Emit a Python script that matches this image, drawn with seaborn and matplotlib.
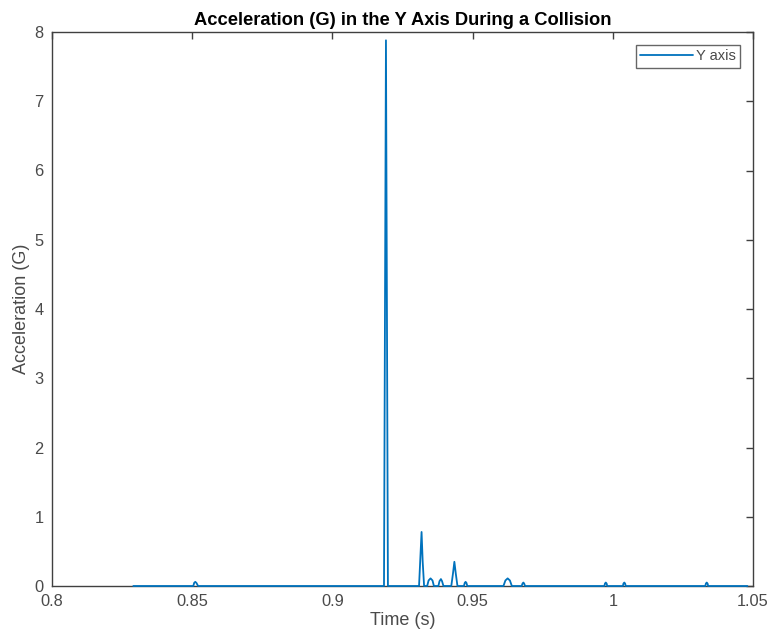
import seaborn as sns
import matplotlib
matplotlib.use("Agg")
import matplotlib.pyplot as plt

# time points (s)
time_s = [
    0.8290, 0.8504, 0.8507, 0.8511, 0.8515, 0.8521,
    0.9184, 0.9191, 0.9198,
    0.9309, 0.9313, 0.9318, 0.9322, 0.9327,
    0.9338, 0.9343, 0.9350, 0.9357, 0.9362,
    0.9378, 0.9382, 0.9387, 0.9391, 0.9396,
    0.9424, 0.9430, 0.9435, 0.9440, 0.9446,
    0.9469, 0.9472, 0.9475, 0.9478, 0.9481,
    0.9610, 0.9617, 0.9625, 0.9633, 0.9640,
    0.9675, 0.9678, 0.9681, 0.9684, 0.9687,
    0.9970, 0.9972, 0.9975, 0.9978, 0.9980,
    1.0036, 1.0038, 1.0041, 1.0044, 1.0046,
    1.0330, 1.0332, 1.0335, 1.0338, 1.0340,
    1.0480,
]
# acceleration (G) at those time points
accel_g = [
    0.0, 0.0, 0.045, 0.06, 0.045, 0.0,
    0.0, 7.88, 0.0,
    0.0, 0.35, 0.78, 0.35, 0.0,
    0.0, 0.08, 0.11, 0.08, 0.0,
    0.0, 0.07, 0.10, 0.07, 0.0,
    0.0, 0.18, 0.35, 0.18, 0.0,
    0.0, 0.045, 0.06, 0.045, 0.0,
    0.0, 0.08, 0.11, 0.08, 0.0,
    0.0, 0.035, 0.05, 0.035, 0.0,
    0.0, 0.035, 0.05, 0.035, 0.0,
    0.0, 0.035, 0.05, 0.035, 0.0,
    0.0, 0.035, 0.05, 0.035, 0.0,
    0.0,
]
x_ticks = [0.8, 0.85, 0.9, 0.95, 1.0, 1.05]
x_tick_labels = ["0.8", "0.85", "0.9", "0.95", "1", "1.05"]
y_ticks = [0, 1, 2, 3, 4, 5, 6, 7, 8]

sns.set_style("white")
plt.rcParams["font.family"] = ["Liberation Sans", "DejaVu Sans"]

axis_gray = "#404040"
text_gray = "#4a4a4a"
fig = plt.figure(figsize=(7.69, 6.36), dpi=100)
ax = fig.add_axes([52 / 769, 1 - 586 / 636, (753 - 52) / 769, (586 - 32) / 636])

sns.lineplot(x=time_s, y=accel_g, ax=ax, color="#0072BD", linewidth=1.3,
             estimator=None, sort=False, label="Y axis", zorder=3, clip_on=False)

ax.set_xlim(0.8, 1.05)
ax.set_ylim(0, 8)
ax.set_xticks(x_ticks)
ax.set_xticklabels(x_tick_labels)
ax.set_yticks(y_ticks)
ax.tick_params(direction="in", length=5, width=1, color=axis_gray,
               labelcolor=text_gray, labelsize=11.8, top=True, right=True, pad=6)
for side in ax.spines.values():
    side.set_visible(True)
    side.set_color(axis_gray)
    side.set_linewidth(1.0)

ax.set_xlabel("Time (s)", fontsize=13, color=text_gray, labelpad=2)
ax.set_ylabel("Acceleration (G)", fontsize=13, color=text_gray, labelpad=3)
ax.set_title("Acceleration (G) in the Y Axis During a Collision",
             fontsize=13.2, fontweight="bold", color="black", pad=5)

leg = ax.legend(loc="upper right", fontsize=10.5, frameon=True, fancybox=False,
                handlelength=3.6, handletextpad=0.2, borderpad=0.3,
                borderaxespad=0.9)
leg.get_frame().set_edgecolor(axis_gray)
leg.get_frame().set_linewidth(1.0)
for t in leg.get_texts():
    t.set_color(text_gray)

fig.savefig("out.png", dpi=100)
